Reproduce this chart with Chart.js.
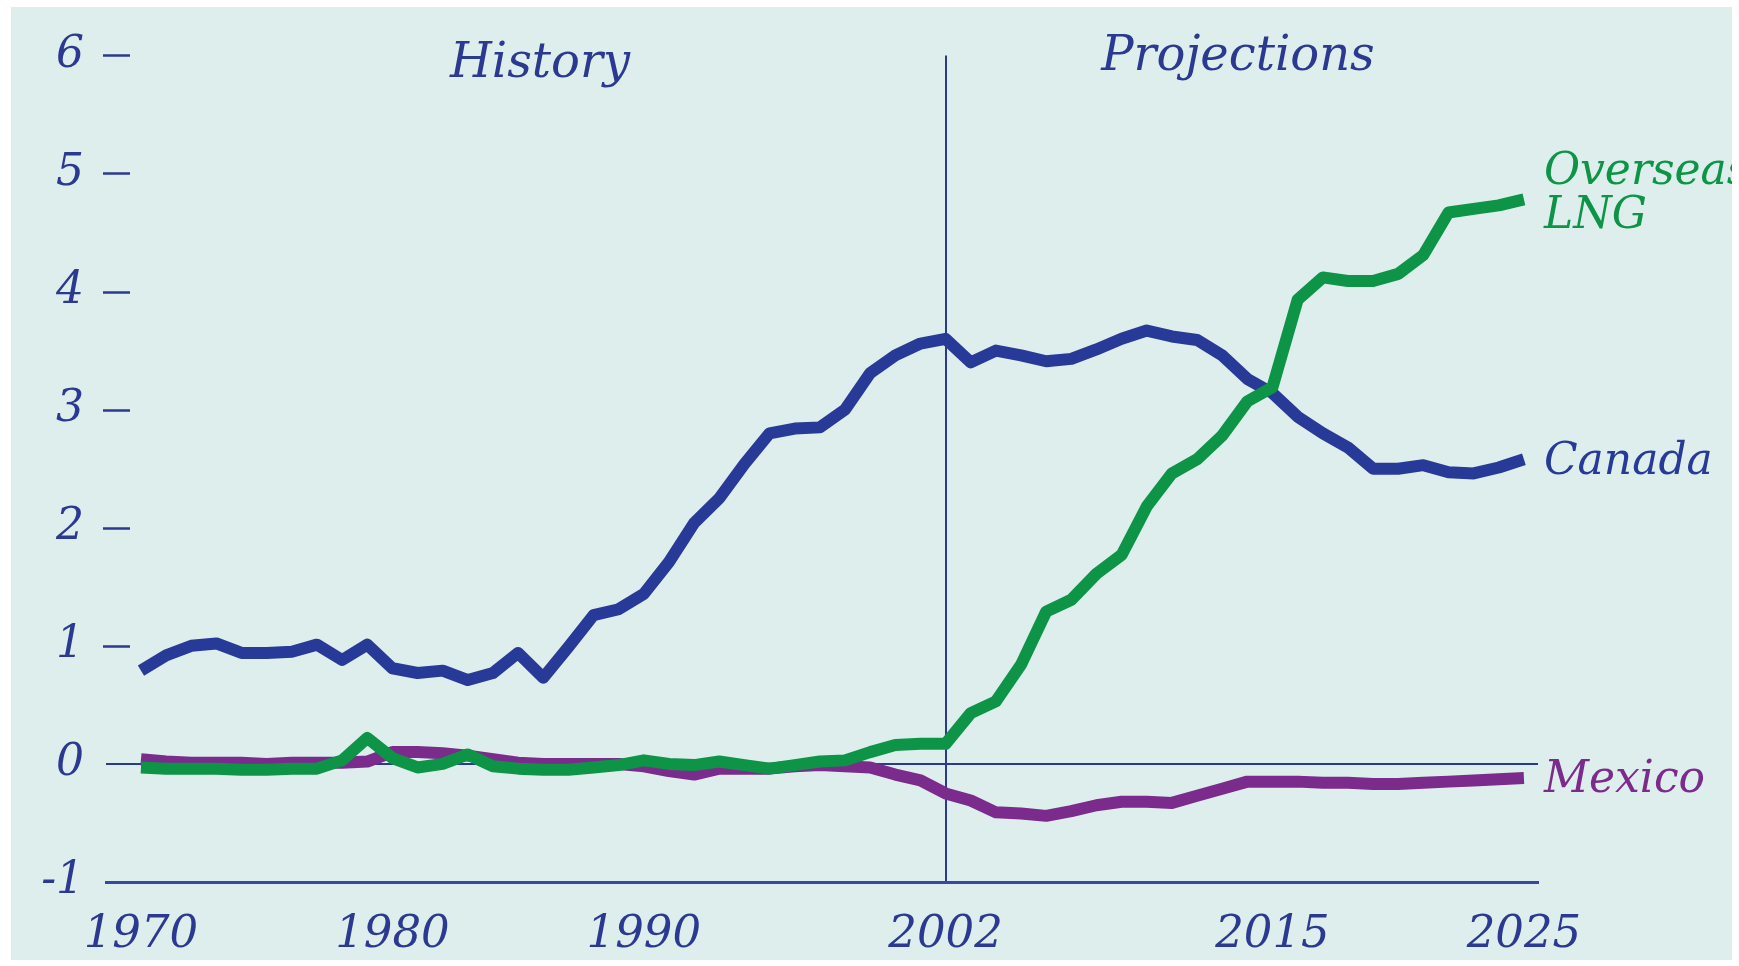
<!DOCTYPE html>
<html>
<head>
<meta charset="utf-8">
<script src="https://cdn.jsdelivr.net/npm/chart.js@4.4.1/dist/chart.umd.min.js"></script>
<style>
    html, body { margin: 0; padding: 0; background: #ffffff; }
    #wrap { position: absolute; left: 11px; top: 7px; width: 1721px; height: 953px; background: #ddeeed; overflow: hidden; }
    canvas { display: block; }
</style>
</head>
<body>
<div id="wrap"><canvas id="importChart" width="1721" height="953"></canvas></div>
<script>
const years = [1970, 1971, 1972, 1973, 1974, 1975, 1976, 1977, 1978, 1979,
               1980, 1981, 1982, 1983, 1984, 1985, 1986, 1987, 1988, 1989,
               1990, 1991, 1992, 1993, 1994, 1995, 1996, 1997, 1998, 1999,
               2000, 2001, 2002, 2003, 2004, 2005, 2006, 2007, 2008, 2009,
               2010, 2011, 2012, 2013, 2014, 2015, 2016, 2017, 2018, 2019,
               2020, 2021, 2022, 2023, 2024, 2025];

const canada = [0.79, 0.92, 1.00, 1.02, 0.94, 0.94, 0.95, 1.01, 0.88, 1.01,
                0.81, 0.77, 0.79, 0.71, 0.77, 0.94, 0.73, 0.99, 1.26, 1.31,
                1.44, 1.71, 2.04, 2.25, 2.54, 2.80, 2.84, 2.85, 3.00, 3.31,
                3.46, 3.56, 3.60, 3.40, 3.50, 3.46, 3.41, 3.43, 3.51, 3.60,
                3.67, 3.62, 3.59, 3.46, 3.26, 3.14, 2.94, 2.80, 2.68, 2.50,
                2.50, 2.53, 2.47, 2.46, 2.51, 2.58];

const overseasLng = [-0.03, -0.04, -0.04, -0.04, -0.05, -0.05, -0.04, -0.04, 0.03, 0.22,
                     0.05, -0.03, 0.00, 0.08, -0.02, -0.04, -0.05, -0.05, -0.03, -0.01,
                     0.03, 0.00, -0.01, 0.02, -0.01, -0.04, -0.01, 0.02, 0.03, 0.10,
                     0.16, 0.17, 0.17, 0.43, 0.53, 0.84, 1.29, 1.39, 1.61, 1.77,
                     2.18, 2.46, 2.58, 2.78, 3.07, 3.19, 3.93, 4.12, 4.09, 4.09,
                     4.15, 4.31, 4.67, 4.70, 4.73, 4.78];

const mexico = [0.04, 0.02, 0.01, 0.01, 0.01, 0.00, 0.01, 0.01, 0.01, 0.02,
                0.10, 0.10, 0.09, 0.07, 0.04, 0.01, 0.00, 0.00, 0.00, 0.00,
                -0.02, -0.06, -0.09, -0.04, -0.04, -0.04, -0.02, -0.01, -0.02, -0.03,
                -0.09, -0.14, -0.25, -0.31, -0.41, -0.42, -0.44, -0.40, -0.35, -0.32,
                -0.32, -0.33, -0.27, -0.21, -0.15, -0.15, -0.15, -0.16, -0.16, -0.17,
                -0.17, -0.16, -0.15, -0.14, -0.13, -0.12];

const xTickYears = [1970, 1980, 1990, 2002, 2015, 2025];
const splitYear = 2002;

const navy = '#2b3991';
const lineBlue = '#283a97';
const green = '#0d9447';
const purple = '#7a2b8c';
const labelFont = 'italic 48px "DejaVu Serif"';
const seriesFont = 'italic 44px "DejaVu Serif"';

// short dashes next to the y labels, plus the History / Projections and series labels
const decorations = {
    id: 'decorations',
    beforeDatasetsDraw(chart) {
        const ctx = chart.ctx;
        const y = chart.scales.y;
        const left = chart.chartArea.left;
        ctx.save();
        ctx.strokeStyle = navy;
        ctx.lineWidth = 2.5;
        y.ticks.forEach(t => {
            if (t.value < 1) return;
            const py = Math.round(y.getPixelForValue(t.value)) + 0.5;
            ctx.beginPath();
            ctx.moveTo(left - 3, py);
            ctx.lineTo(left + 24, py);
            ctx.stroke();
        });
        ctx.restore();
    },
    afterDatasetsDraw(chart) {
        const ctx = chart.ctx;
        const x = chart.scales.x;
        const y = chart.scales.y;
        const last = years[years.length - 1];
        const endX = x.getPixelForValue(last) + 20;
        ctx.save();
        ctx.font = labelFont;
        ctx.fillStyle = navy;
        ctx.textAlign = 'center';
        ctx.textBaseline = 'alphabetic';
        ctx.fillText('History', x.getPixelForValue(1985.87), y.getPixelForValue(5.82));
        ctx.fillText('Projections', x.getPixelForValue(2013.63), y.getPixelForValue(5.88));

        ctx.font = seriesFont;
        ctx.textAlign = 'left';
        ctx.textBaseline = 'middle';
        ctx.fillStyle = lineBlue;
        ctx.fillText('Canada', endX, y.getPixelForValue(canada[canada.length - 1]) + 3);
        ctx.fillStyle = green;
        const lngY = y.getPixelForValue(overseasLng[overseasLng.length - 1]);
        ctx.fillText('Overseas', endX, lngY - 27);
        ctx.fillText('LNG', endX, lngY + 17);
        ctx.fillStyle = purple;
        ctx.fillText('Mexico', endX, y.getPixelForValue(mexico[mexico.length - 1]) + 2);
        ctx.restore();
    }
};

const lineStyle = {
    borderWidth: 12,
    pointRadius: 0,
    tension: 0,
    borderJoinStyle: 'round',
    fill: false
};

new Chart(document.getElementById('importChart').getContext('2d'), {
    type: 'line',
    data: {
        labels: years,
        datasets: [
            { label: 'Overseas LNG', data: overseasLng, borderColor: green, ...lineStyle },
            { label: 'Canada', data: canada, borderColor: lineBlue, ...lineStyle },
            { label: 'Mexico', data: mexico, borderColor: purple, ...lineStyle }
        ]
    },
    options: {
        responsive: false,
        animation: false,
        devicePixelRatio: 1,
        layout: { padding: { top: 40, right: 194, left: 0, bottom: 0 } },
        plugins: {
            legend: { display: false },
            tooltip: { enabled: false }
        },
        scales: {
            x: {
                type: 'linear',
                min: 1968.61,
                max: 2025.56,
                afterBuildTicks: scale => {
                    scale.ticks = xTickYears.map(v => ({ value: v }));
                },
                afterFit: scale => { scale.height = 78; },
                ticks: {
                    callback: value => String(value),
                    color: navy,
                    font: { family: 'DejaVu Serif', size: 45, style: 'italic' },
                    padding: 26,
                    maxRotation: 0,
                    autoSkip: false
                },
                grid: {
                    drawTicks: false,
                    color: ctx => (ctx.tick && ctx.tick.value === splitYear) ? navy : 'transparent',
                    lineWidth: 2
                },
                border: { display: true, color: '#3448a4', width: 3 }
            },
            y: {
                min: -1,
                max: 6,
                afterFit: scale => { scale.width = 95; },
                ticks: {
                    stepSize: 1,
                    color: navy,
                    font: { family: 'DejaVu Serif', size: 44, style: 'italic' },
                    padding: 22
                },
                grid: {
                    drawTicks: false,
                    color: ctx => (ctx.tick && ctx.tick.value === 0) ? navy : 'transparent',
                    lineWidth: 2
                },
                border: { display: false }
            }
        }
    },
    plugins: [decorations]
});
</script>
</body>
</html>
